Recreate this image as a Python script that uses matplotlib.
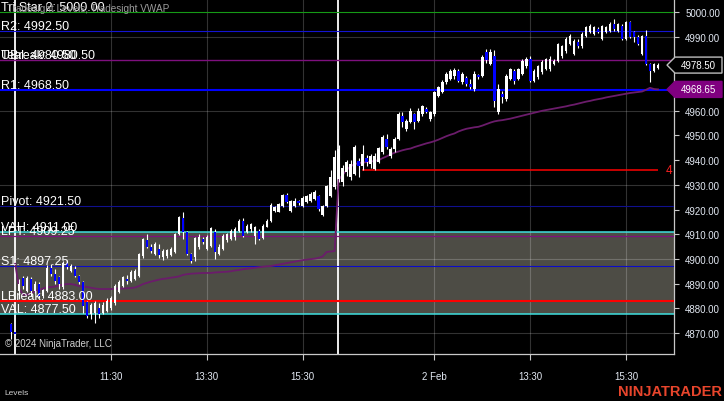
import numpy as np
import matplotlib.pyplot as plt
from matplotlib.patches import Polygon

W, H, DPI = 724, 402, 100
FONT = ["Liberation Sans", "DejaVu Sans"]

# 5 min bars, bar 0 = 1 Feb 9:30, bar 81 = 2 Feb 9:30, bar -1 = prior close
FIRST_BAR = -1
SESSION_STARTS = [0, 81]

opens = [
    4873.6, 4870.2,
    4887, 4892.3, 4887, 4892, 4887, 4890, 4885, 4887, 4896.5, 4894,            # 1
    4892.5, 4888.5, 4898.5, 4895, 4896, 4893, 4890.5, 4882.5, 4877.5, 4878,    # 11
    4880, 4878, 4879, 4880, 4882, 4886.5, 4889, 4892, 4891, 4892,              # 21
    4893, 4901, 4907.5, 4905, 4902, 4904, 4900.8, 4901, 4901.5, 4902.8,        # 31
    4910, 4916.6, 4911, 4902, 4900.8, 4905, 4908, 4904, 4905.3, 4911,          # 41
    4902, 4904, 4907.6, 4908, 4909, 4911.3, 4915.4, 4910.9, 4912, 4909.3,      # 51
    4911.3, 4908.5, 4913, 4915.4, 4919.5, 4919, 4921.4, 4925.9, 4919.2, 4921.6,  # 61
    4923.5, 4921.5, 4923, 4923.5, 4924.3, 4925.5, 4917.8, 4921.4, 4925.5, 4929.1,  # 71
    4932.4, 4931, 4935.2, 4933.2, 4934.4, 4939.6, 4937.6, 4940.9, 4938.4, 4936.4,  # 81
    4939.2, 4943.3, 4948.6, 4941.5, 4944.5, 4948.6, 4957.9, 4952.6, 4955.4, 4958.7,  # 91
    4955.8, 4958.7, 4960.7, 4956.6, 4958.7, 4966, 4967.6, 4971.6, 4972.9, 4974,  # 101
    4976.1, 4971.6, 4973.3, 4970.8, 4968.8, 4974.5, 4974.1, 4983.8, 4979, 4982.2,  # 111
    4959.5, 4966.8, 4964.8, 4973, 4976.1, 4972.9, 4974.9, 4978.1, 4981, 4972.1,  # 121
    4973.7, 4975.7, 4976.9, 4977, 4978.9, 4980.2, 4982.2, 4984.2, 4987, 4983,  # 131
    4987.8, 4986.2, 4990.3, 4991.9, 4991.1, 4993.1, 4989, 4992, 4992.3, 4995.1,  # 141
    4992.3, 4994.3, 4989.1, 4996, 4991.9, 4989.9, 4983, 4990.3, 4978.9, 4976.1,  # 151
    4977.3,                                                                      # 161
]
highs = [
    4874, 4870.5,
    4891.9, 4893, 4893, 4892.5, 4891, 4890.5, 4888, 4897.5, 4898, 4896,
    4893, 4899, 4899.5, 4898, 4897, 4893.5, 4891, 4883, 4882, 4883,
    4882, 4882.5, 4884, 4885, 4890, 4891.5, 4893, 4893.5, 4895.5, 4896,
    4902.5, 4908.5, 4910, 4906, 4907, 4906, 4904, 4904, 4905, 4910.5,
    4917.5, 4919, 4911.5, 4902.5, 4909, 4910, 4909, 4909.5, 4913, 4912,
    4906, 4910, 4910.5, 4912, 4913, 4916, 4916.6, 4914, 4914.5, 4913.5,
    4912, 4914, 4916, 4922.5, 4921.5, 4922.8, 4926.3, 4926.7, 4924, 4924.5,
    4924, 4925.5, 4926, 4927, 4928, 4926, 4922, 4930, 4936, 4944,
    4946, 4938, 4940, 4940, 4946, 4941, 4946, 4942, 4942.5, 4943,
    4945.5, 4950, 4950.5, 4945.5, 4949.5, 4959.5, 4959.5, 4956.5, 4961, 4959,
    4961, 4962.5, 4961.5, 4960, 4968, 4970, 4972.5, 4975.5, 4977, 4977.5,
    4977, 4975.5, 4974, 4972.8, 4976, 4975, 4982.5, 4985, 4985, 4984.5,
    4971, 4968, 4975, 4977.5, 4977, 4977.5, 4980.8, 4981.8, 4982, 4977,
    4978.5, 4980.5, 4981.5, 4982, 4981, 4987.5, 4986.8, 4989.7, 4991, 4989,
    4989, 4991.8, 4994.5, 4995, 4994.5, 4994, 4994.8, 4994.5, 4995.8, 4997.2,
    4995.5, 4995, 4996.5, 4996.5, 4992.5, 4990.5, 4990.8, 4992.7, 4979.5, 4979.5,
    4979.5,
]
lows = [
    4867.6, 4869,
    4883.8, 4888, 4886.5, 4885, 4886, 4884, 4884, 4886.5, 4893, 4890,
    4888, 4887.8, 4896, 4894.5, 4892.5, 4890, 4878, 4876, 4875.5, 4874,
    4876, 4877.5, 4878.5, 4879.5, 4881.5, 4886, 4888.5, 4890, 4890.5, 4891.5,
    4892.5, 4900.5, 4904.5, 4902.5, 4901.5, 4900.5, 4899.5, 4900.5, 4901, 4902.5,
    4909.5, 4908, 4901.5, 4898.2, 4899, 4904, 4906, 4903.5, 4905, 4900,
    4901.5, 4903.5, 4907, 4907.5, 4907.5, 4911, 4909, 4910.5, 4911, 4906,
    4907.5, 4908, 4912.8, 4915, 4919, 4918.8, 4921, 4922.5, 4918.8, 4921,
    4922, 4921.2, 4922.5, 4923, 4924, 4919.5, 4917.5, 4921, 4925, 4928.5,
    4931, 4929.5, 4933.5, 4932, 4933.8, 4933, 4936, 4937.5, 4937, 4936,
    4938.7, 4942.5, 4944.5, 4941, 4943.5, 4948, 4953.4, 4952, 4955, 4952.5,
    4955.5, 4958, 4959, 4956, 4958, 4965.5, 4967, 4971, 4972.5, 4973,
    4971.5, 4971, 4970, 4968.8, 4968, 4973, 4973.5, 4979.5, 4978.5, 4961.5,
    4958.7, 4963, 4964, 4972.5, 4971, 4972.5, 4974.5, 4977.5, 4971.5, 4971.5,
    4973, 4975, 4976.5, 4976, 4978.5, 4979.7, 4981.5, 4983.5, 4986.5, 4982.5,
    4985.5, 4985.5, 4989.8, 4991.5, 4990.5, 4991.5, 4988.5, 4991.5, 4992, 4992.5,
    4992, 4988.5, 4988.5, 4989.5, 4987.8, 4986.5, 4982.5, 4978.5, 4971.6, 4975.5,
    4977,
]
closes = [
    4870.4, 4869.5,
    4890, 4889, 4892.3, 4887, 4890, 4885, 4887.5, 4896.5, 4894, 4891,
    4889.8, 4898.5, 4896.7, 4897, 4893, 4890.5, 4881, 4877, 4881.5, 4882,
    4877.5, 4881.5, 4883, 4884, 4889, 4890.5, 4892.5, 4891, 4894.5, 4895,
    4902, 4908, 4905, 4903, 4906, 4901.5, 4903.2, 4903.5, 4904, 4910,
    4917, 4911, 4902, 4899.2, 4908.5, 4909, 4906.8, 4909, 4912.5, 4902.8,
    4905, 4909.3, 4910, 4911.3, 4912, 4915.4, 4909.3, 4913.3, 4914, 4913,
    4908, 4913.3, 4915.4, 4921.8, 4921, 4922.2, 4925.9, 4923, 4923.5, 4923.6,
    4922.7, 4924.5, 4925.5, 4926.3, 4927, 4920.2, 4921.5, 4929.5, 4933.2, 4941.3,
    4944.5, 4937, 4939.2, 4938.4, 4945.3, 4937.6, 4942.5, 4939.2, 4941.7, 4941.7,
    4944.9, 4949.4, 4945.3, 4944.5, 4948.6, 4958.7, 4955.4, 4955.8, 4959.9, 4955.4,
    4960, 4961.9, 4959.5, 4959.5, 4967.6, 4969.6, 4971.6, 4974.9, 4976.1, 4976.5,
    4972.1, 4974.9, 4970.8, 4969.6, 4974.9, 4973.7, 4981.8, 4980.5, 4983.8, 4964,
    4968.8, 4965.6, 4974.1, 4976.9, 4972.1, 4976.9, 4980.2, 4981, 4972.1, 4976.1,
    4978.1, 4979.7, 4981, 4981, 4980.2, 4987, 4986.2, 4989.1, 4990.3, 4988.3,
    4986.2, 4991.1, 4993.9, 4994.3, 4993.9, 4991.9, 4994.3, 4993.9, 4995.1, 4993.1,
    4995.1, 4989.1, 4996, 4989.9, 4989.9, 4987, 4990.3, 4978.9, 4976.1, 4978.9,
    4978.5,
]

# session VWAP, bars 0..161
vwap = [
    4898, 4888, 4885.5, 4885.5, 4886, 4887, 4887.5, 4888, 4888.5, 4888.6,
    4888.8, 4889.2, 4889.6, 4889.8, 4889.8, 4889.5, 4889, 4888.8, 4888.6, 4888.3,
    4888, 4887.8, 4887.8, 4887.8, 4887.8, 4887.9, 4888, 4888, 4888.1, 4888.2,
    4888.4, 4889, 4889.8, 4890.3, 4890.8, 4891.2, 4891.6, 4891.9, 4892.1, 4892.4,
    4892.6, 4892.9, 4893.5, 4893.8, 4894, 4894.1, 4894.2, 4894.3, 4894.3, 4894.3,
    4894.5, 4894.6, 4894.7, 4894.8, 4895, 4895.3, 4895.5, 4895.8, 4896, 4896.2,
    4896.4, 4896.6, 4896.8, 4897, 4897.1, 4897.4, 4897.7, 4898, 4898.3, 4898.6,
    4898.9, 4899.2, 4899.5, 4899.7, 4899.9, 4900.1, 4900.4, 4901, 4902.8, 4903,
    4903.2,
    4932, 4934, 4936, 4937.5, 4938.4, 4938.8, 4939, 4939.2, 4939.4, 4939.7,
    4940, 4940.8, 4941.5, 4942.3, 4943, 4943.5, 4944, 4944.4, 4944.7, 4945.3,
    4945.8, 4946.3, 4946.8, 4947.2, 4947.7, 4948.3, 4949, 4949.7, 4950.3, 4950.8,
    4951.6, 4952.2, 4952.7, 4953, 4953.3, 4953.5, 4954, 4954.6, 4955.2, 4955.7,
    4956, 4956.2, 4956.5, 4956.8, 4957.2, 4957.6, 4958, 4958.4, 4958.8, 4959.2,
    4959.6, 4960, 4960.3, 4960.6, 4960.9, 4961.2, 4961.5, 4961.8, 4962.2, 4962.5,
    4962.9, 4963.3, 4963.7, 4964, 4964.4, 4964.7, 4965, 4965.4, 4965.7, 4966,
    4966.3, 4966.6, 4966.9, 4967.2, 4967.4, 4967.6, 4967.8, 4968.5, 4969.3, 4968.8,
    4968.65,
]

level_names = ["Tri Star 2", "R2", "UBreak", "R1", "Pivot", "VAH", "LPT", "S1", "LBreak", "VAL"]
level_values = [5000.00, 4992.50, 4980.50, 4968.50, 4921.50, 4911.00, 4909.25, 4897.25, 4883.00, 4877.50]
level_style = {
    "Tri Star 2": ("#169a16", 0.8), "R2": ("#1414d2", 0.8), "UBreak": ("#7e107e", 1.0),
    "R1": ("#0000ff", 1.5), "Pivot": ("#10108e", 0.8), "VAH": ("#3fe0e0", 1.1),
    "LPT": ("#7e107e", 0.9), "S1": ("#0b0bc8", 0.8), "LBreak": ("#ff0000", 1.5),
    "VAL": ("#3fe0e0", 1.1),
}

trend_level = 4936.0
trend_start_bar = 87
last_price = 4978.50
vwap_last = 4968.65

tick_bars = [24, 48, 72, 105, 129, 153]
tick_labels = ["11:30", "13:30", "15:30", "2 Feb", "13:30", "15:30"]
price_ticks = list(range(4870, 5001, 10))

bars = np.arange(FIRST_BAR, FIRST_BAR + len(closes))
o, hi, lo, c = map(np.array, (opens, highs, lows, closes))
assert len(o) == len(hi) == len(lo) == len(c)

fig = plt.figure(figsize=(W / DPI, H / DPI), dpi=DPI, facecolor="black")
ax = fig.add_axes([0, 47 / H, 674 / W, 355 / H])
ax.set_facecolor("black")
ax.set_xlim(-3.81, 165.0)
ax.set_ylim(4861.48, 5005.27)

# value area box
ax.axhspan(level_values[9], level_values[5], color="#4d4c45", lw=0, zorder=0)

# grid
for p in [4870, 4900, 4930, 4960, 4990]:
    ax.axhline(p, color="white", alpha=0.2, lw=0.8, zorder=1)
for b in tick_bars:
    ax.axvline(b, color="white", alpha=0.2, lw=0.8, zorder=1)

# session separators
for s in SESSION_STARTS:
    ax.axvline(s - 0.15, color="white", lw=1.3, zorder=2)

tr = ax.get_yaxis_transform()
for name, val in zip(level_names, level_values):
    col, lw = level_style[name]
    ax.axhline(val, color=col, lw=lw, zorder=3)
    ax.text(0.0015, val + 0.8, f"{name}: {val:.2f}", transform=tr, color="white",
            fontsize=9, family=FONT, va="baseline", ha="left", zorder=8)
# second label hidden under UBreak
ax.text(0.0015, level_values[2] + 0.8, f"Teal: {level_values[2]:.2f}", transform=tr,
        color="white", fontsize=9, family=FONT, va="baseline", ha="left", zorder=8)

ax.hlines(trend_level, trend_start_bar - 0.1, bars[-1], color="#ff0000", lw=1.1, zorder=3)
ax.text(0.987, trend_level, "4", transform=tr, color="#ff2020", fontsize=8.5,
        family=FONT, va="center", ha="left", zorder=8, clip_on=False)

# vwap
ax.plot(np.arange(0, len(vwap)), vwap, color="#6b1c6b", lw=1.3, zorder=4)

# candles
up = c >= o
ax.vlines(bars, lo, hi, color="white", lw=0.8, zorder=5)
body = np.maximum(np.abs(c - o), 0.3)
ax.bar(bars[up], body[up], bottom=np.minimum(o, c)[up], width=0.62, color="white", lw=0, zorder=6)
ax.bar(bars[~up], body[~up], bottom=np.minimum(o, c)[~up], width=0.62, color="#0000ff", lw=0, zorder=6)

# axes styling
for side in ["top", "left"]:
    ax.spines[side].set_visible(False)
for side in ["right", "bottom"]:
    ax.spines[side].set_color("#c8c8c8")
    ax.spines[side].set_linewidth(0.9)
ax.yaxis.tick_right()
ax.set_yticks(price_ticks)
# 4970 / 4980 sit under the price markers
ax.set_yticklabels(["" if v in (4970, 4980) else f"{v:.2f}" for v in price_ticks])
ax.set_xticks(tick_bars)
ax.set_xticklabels(tick_labels)
ax.tick_params(axis="y", colors="#c8c8c8", length=3.5, width=0.8, pad=4.5, labelsize=7,
               labelcolor="#e2e8f2")
ax.tick_params(axis="x", colors="#c8c8c8", length=4, width=0.8, pad=8, labelsize=7,
               labelcolor="#e2e8f2")
for lab in ax.get_xticklabels() + ax.get_yticklabels():
    lab.set_family(FONT)

# price markers on the right axis
def marker(price, face, edge):
    hh = 3.24
    pts = [(0.9896, price), (1.0015, price + hh), (1.0712, price + hh),
           (1.0712, price - hh), (1.0015, price - hh)]
    ax.add_patch(Polygon(pts, closed=True, transform=tr, facecolor=face, edgecolor=edge,
                         lw=1.0, clip_on=False, zorder=10))
    ax.text(1.0364, price, f"{price:.2f}", transform=tr, color="white", fontsize=7,
            family=FONT, ha="center", va="center", clip_on=False, zorder=11)

marker(last_price, "black", "#bdbdbd")
marker(vwap_last, "#800080", "#800080")

fig.text(7 / W, 1 - 9 / H, "Tradesight Levels, Tradesight VWAP", color="#9c9c9c",
         fontsize=7.2, family=FONT, va="center", ha="left")
fig.text(5 / W, 1 - 344 / H, "© 2024 NinjaTrader, LLC", color="#cfcfcf",
         fontsize=7, family=FONT, va="center", ha="left")
fig.text(4 / W, 1 - 394 / H, "Levels", color="#cfcfcf", fontsize=6, family=FONT,
         va="center", ha="left")
fig.text(722 / W, 1 - 392 / H, "NINJATRADER", color="#e8452c", fontsize=10.5,
         fontweight="bold", family=FONT, va="center", ha="right")

fig.savefig("out.png", dpi=DPI, facecolor="black")
